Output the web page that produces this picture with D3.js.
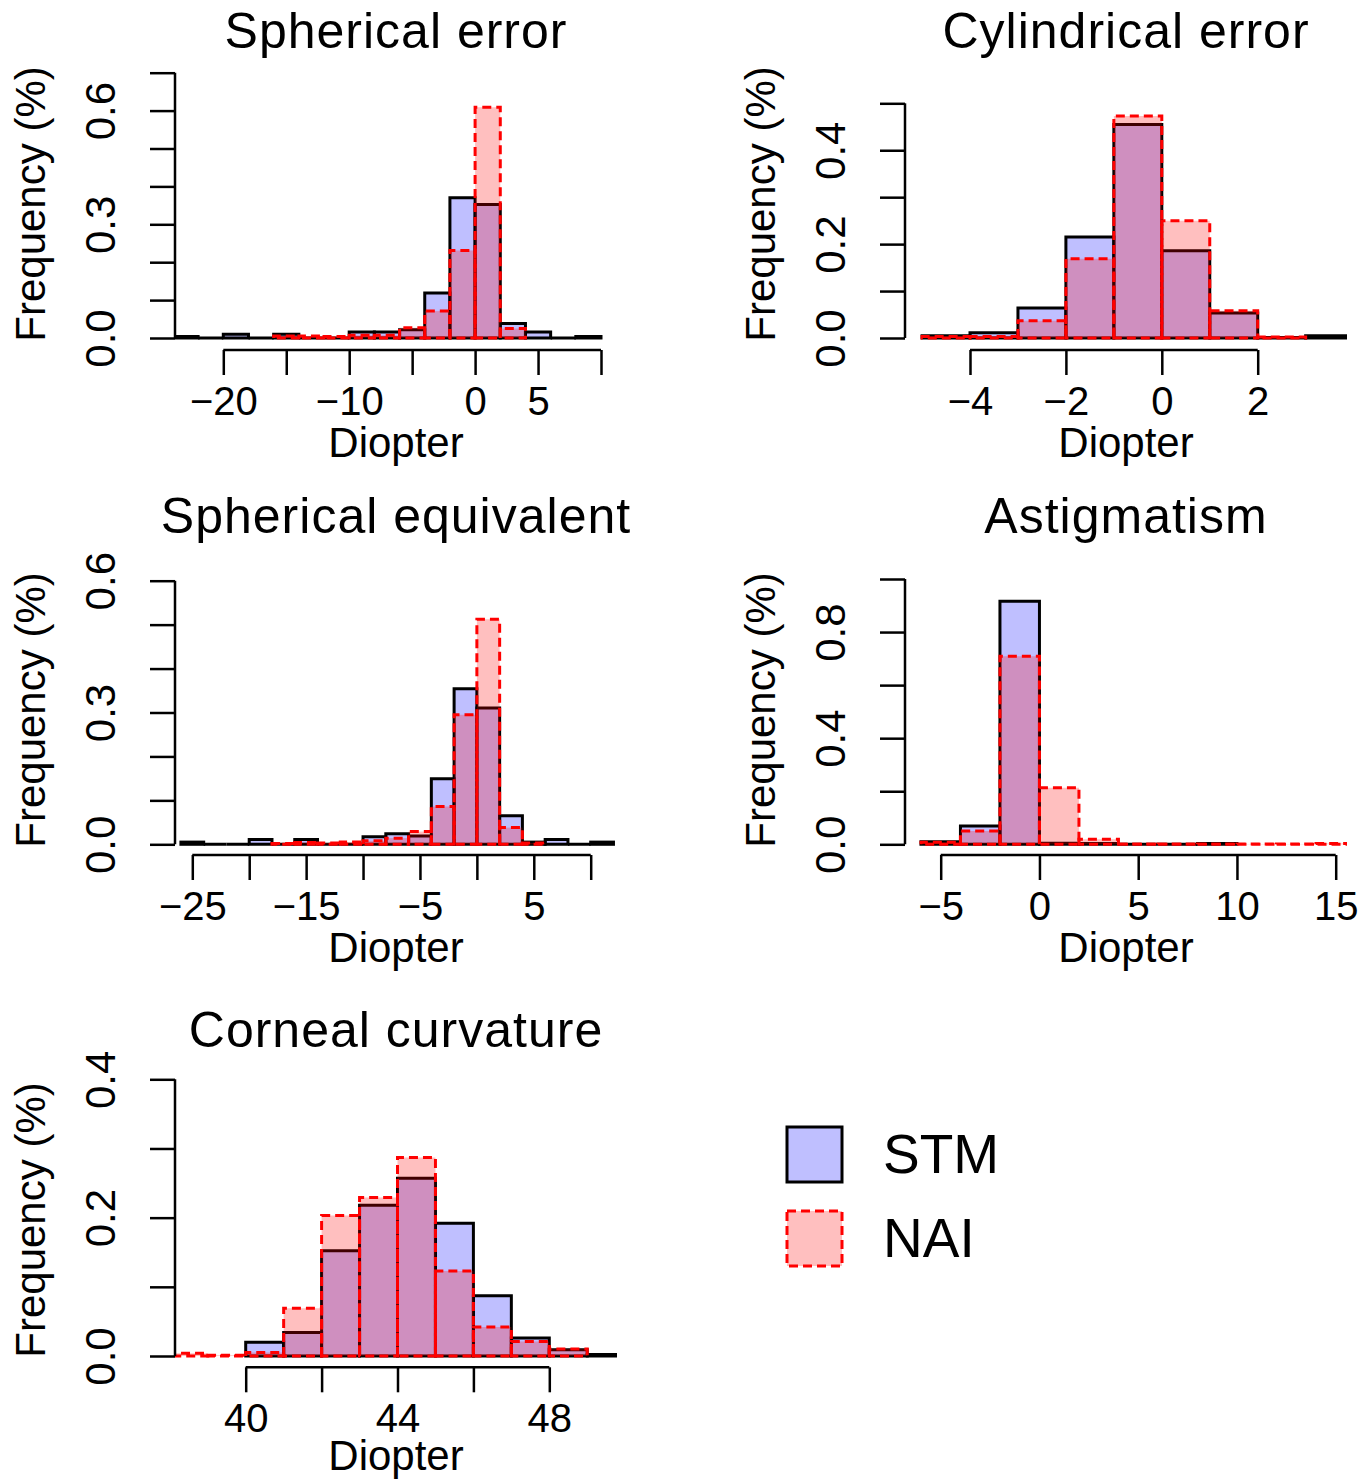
<!DOCTYPE html>
<html>
<head>
<meta charset="utf-8">
<script src="https://cdn.jsdelivr.net/npm/d3@7"></script>
<style>
  body { margin: 0; background: #fff; }
  text { font-family: "Liberation Sans", Arial, Helvetica, sans-serif; fill: #000; }
</style>
</head>
<body>
<script>
// ---- data (histogram densities) ----

// Spherical error
const sphStmBreaks = [-24, -22, -20, -18, -16, -14, -12, -10, -8, -6, -4, -2, 0, 2, 4, 6, 8, 10];
const sphStm = [0.004, 0, 0.01, 0, 0.01, 0, 0, 0.016, 0.016, 0.022, 0.119, 0.37, 0.352, 0.038, 0.016, 0, 0.004];
const sphNaiBreaks = [-16, -14, -12, -10, -8, -6, -4, -2, 0, 2, 4];
const sphNai = [0.005, 0.005, 0.004, 0.007, 0.007, 0.027, 0.071, 0.231, 0.609, 0.025];
const sphXTicks = [-20, -15, -10, -5, 0, 5, 10];
const sphXLabels = [-20, -10, 0, 5];
const sphYTicks = [0, 0.1, 0.2, 0.3, 0.4, 0.5, 0.6, 0.7];
const sphYLabels = [0, 0.3, 0.6];

// Cylindrical error
const cylStmBreaks = [-5, -4, -3, -2, -1, 0, 1, 2, 3, 4];
const cylStm = [0.005, 0.011, 0.064, 0.215, 0.455, 0.186, 0.053, 0.001, 0.005];
const cylNaiBreaks = [-5, -4, -3, -2, -1, 0, 1, 2, 3];
const cylNai = [0.003, 0.003, 0.037, 0.169, 0.473, 0.25, 0.058, 0.002];
const cylXTicks = [-4, -2, 0, 2];
const cylXLabels = [-4, -2, 0, 2];
const cylYTicks = [0, 0.1, 0.2, 0.3, 0.4, 0.5];
const cylYLabels = [0, 0.2, 0.4];

// Spherical equivalent
const seStmBreaks = [-26, -24, -22, -20, -18, -16, -14, -12, -10, -8, -6, -4, -2, 0, 2, 4, 6, 8, 10, 12];
const seStm = [0.005, 0, 0, 0.011, 0, 0.011, 0, 0, 0.017, 0.024, 0.019, 0.149, 0.354, 0.31, 0.065, 0.005, 0.011, 0, 0.005];
const seNaiBreaks = [-18, -16, -14, -12, -10, -8, -6, -4, -2, 0, 2, 4, 6];
const seNai = [0.002, 0.004, 0.003, 0.005, 0.008, 0.014, 0.029, 0.086, 0.295, 0.512, 0.038, 0.003];
const seXTicks = [-25, -20, -15, -10, -5, 0, 5, 10];
const seXLabels = [-25, -15, -5, 5];
const seYTicks = [0, 0.1, 0.2, 0.3, 0.4, 0.5, 0.6];
const seYLabels = [0, 0.3, 0.6];

// Astigmatism
const asStmBreaks = [-6, -4, -2, 0, 2, 4, 6, 8, 10];
const asStm = [0.01, 0.069, 0.916, 0.004, 0.003, 0, 0, 0.003];
const asNaiBreaks = [-6, -4, -2, 0, 2, 4, 6, 8, 10, 12, 14, 16];
const asNai = [0.008, 0.05, 0.709, 0.213, 0.019, 0.001, 0.001, 0.001, 0.001, 0.001, 0.003];
const asXTicks = [-5, 0, 5, 10, 15];
const asXLabels = [-5, 0, 5, 10, 15];
const asYTicks = [0, 0.2, 0.4, 0.6, 0.8, 1.0];
const asYLabels = [0, 0.4, 0.8];

// Corneal curvature
const ccStmBreaks = [40, 41, 42, 43, 44, 45, 46, 47, 48, 49, 50];
const ccStm = [0.02, 0.034, 0.152, 0.218, 0.257, 0.192, 0.087, 0.026, 0.009, 0.002];
const ccNaiBreaks = [38, 39, 40, 41, 42, 43, 44, 45, 46, 47, 48, 49];
const ccNai = [0.004, 0.001, 0.005, 0.069, 0.203, 0.229, 0.287, 0.123, 0.042, 0.021, 0.01];
const ccXTicks = [40, 42, 44, 46, 48];
const ccXLabels = [40, 44, 48];
const ccYTicks = [0, 0.1, 0.2, 0.3, 0.4];
const ccYLabels = [0, 0.2, 0.4];

const groups = ["STM", "NAI"];

// ---- layout ----
const width = 1372, height = 1481;
const cols = [{ left: 175, right: 617 }, { left: 905, right: 1347 }];
const rows = [
  { titleY: 48, zeroY: 338, axisY: 350, labY: 204, xlabY: 457 },
  { titleY: 533, zeroY: 844.3, axisY: 855, labY: 710, xlabY: 962 },
  { titleY: 1047, zeroY: 1356, axisY: 1367.3, labY: 1220, xlabY: 1470 }
];

const panels = [
  { title: "Spherical error", row: 0, col: 0, stmB: sphStmBreaks, stm: sphStm, naiB: sphNaiBreaks, nai: sphNai,
    xTicks: sphXTicks, xLabels: sphXLabels, yTicks: sphYTicks, yLabels: sphYLabels, xPix: [223.3, 601], yTop: 72.7 },
  { title: "Cylindrical error", row: 0, col: 1, stmB: cylStmBreaks, stm: cylStm, naiB: cylNaiBreaks, nai: cylNai,
    xTicks: cylXTicks, xLabels: cylXLabels, yTicks: cylYTicks, yLabels: cylYLabels, xPix: [970, 1257.7], yTop: 103.3 },
  { title: "Spherical equivalent", row: 1, col: 0, stmB: seStmBreaks, stm: seStm, naiB: seNaiBreaks, nai: seNai,
    xTicks: seXTicks, xLabels: seXLabels, yTicks: seYTicks, yLabels: seYLabels, xPix: [192.3, 590.7], yTop: 580.7 },
  { title: "Astigmatism", row: 1, col: 1, stmB: asStmBreaks, stm: asStm, naiB: asNaiBreaks, nai: asNai,
    xTicks: asXTicks, xLabels: asXLabels, yTicks: asYTicks, yLabels: asYLabels, xPix: [940.7, 1335.7], yTop: 579 },
  { title: "Corneal curvature", row: 2, col: 0, stmB: ccStmBreaks, stm: ccStm, naiB: ccNaiBreaks, nai: ccNai,
    xTicks: ccXTicks, xLabels: ccXLabels, yTicks: ccYTicks, yLabels: ccYLabels, xPix: [245.7, 549.3], yTop: 1079.3 }
];

const stmFill = "rgba(0,0,255,0.25)";
const naiFill = "rgba(255,0,0,0.25)";

const svg = d3.select("body").append("svg")
  .attr("width", width)
  .attr("height", height)
  .attr("viewBox", [0, 0, width, height]);

const fmtX = v => (v < 0 ? "\u2212" + Math.abs(v) : String(v));

panels.forEach((p, i) => {
  const c = cols[p.col], r = rows[p.row];
  const x = d3.scaleLinear().domain([p.xTicks[0], p.xTicks[p.xTicks.length - 1]]).range(p.xPix);
  const y = d3.scaleLinear().domain([0, p.yTicks[p.yTicks.length - 1]]).range([r.zeroY, p.yTop]);

  svg.append("clipPath").attr("id", "clip" + i)
    .append("rect")
    .attr("x", c.left).attr("y", r.titleY)
    .attr("width", c.right - c.left).attr("height", r.axisY - r.titleY);

  const plot = svg.append("g").attr("clip-path", `url(#clip${i})`);

  // bars drawn as closed paths so empty bins still show their baseline
  const barPath = (breaks) => (v, j) => {
    const x0 = x(breaks[j]), x1 = x(breaks[j + 1]), y0 = y(0), y1 = y(v);
    return `M${x0},${y0}V${y1}H${x1}V${y0}Z`;
  };

  plot.append("g").selectAll("path")
    .data(p.stm)
    .join("path")
    .attr("d", barPath(p.stmB))
    .attr("fill", stmFill)
    .attr("stroke", "#000")
    .attr("stroke-width", 3);

  plot.append("g").selectAll("path")
    .data(p.nai)
    .join("path")
    .attr("d", barPath(p.naiB))
    .attr("fill", naiFill)
    .attr("stroke", "#ff0000")
    .attr("stroke-width", 3)
    .attr("stroke-dasharray", "9,5");

  // x axis
  svg.append("g")
    .attr("transform", `translate(0,${r.axisY})`)
    .call(d3.axisBottom(x).tickValues(p.xTicks).tickSize(25)
      .tickFormat(v => p.xLabels.includes(v) ? fmtX(v) : ""))
    .call(g => g.select(".domain").remove())
    .call(g => g.selectAll(".tick line").attr("stroke", "#000").attr("stroke-width", 2.5))
    .call(g => g.selectAll(".tick text")
      .attr("y", 65).attr("dy", null)
      .attr("font-size", 40).attr("fill", "#000"))
    .call(g => g.append("line")
      .attr("x1", x(p.xTicks[0])).attr("x2", x(p.xTicks[p.xTicks.length - 1]))
      .attr("stroke", "#000").attr("stroke-width", 2.5));

  // y axis
  svg.append("g")
    .attr("transform", `translate(${c.left},0)`)
    .call(d3.axisLeft(y).tickValues(p.yTicks).tickSize(25)
      .tickFormat(v => p.yLabels.includes(v) ? d3.format(".1f")(v) : ""))
    .call(g => g.select(".domain").remove())
    .call(g => g.selectAll(".tick line").attr("stroke", "#000").attr("stroke-width", 2.5))
    .call(g => g.selectAll(".tick text")
      .attr("x", 0).attr("dy", null)
      .attr("text-anchor", "middle")
      .attr("transform", "translate(-60,0) rotate(-90)")
      .attr("font-size", 42).attr("fill", "#000"))
    .call(g => g.append("line")
      .attr("y1", y(0)).attr("y2", y(p.yTicks[p.yTicks.length - 1]))
      .attr("stroke", "#000").attr("stroke-width", 2.5));

  // titles and axis labels
  const cx = (c.left + c.right) / 2;
  svg.append("text")
    .attr("x", cx).attr("y", r.titleY)
    .attr("text-anchor", "middle")
    .attr("font-size", 50)
    .attr("letter-spacing", 1)
    .text(p.title);

  svg.append("text")
    .attr("x", cx).attr("y", r.xlabY)
    .attr("text-anchor", "middle")
    .attr("font-size", 42)
    .text("Diopter");

  svg.append("text")
    .attr("transform", `translate(${c.left - 130},${r.labY}) rotate(-90)`)
    .attr("text-anchor", "middle")
    .attr("font-size", 42)
    .text("Frequency (%)");
});

// legend
const legend = svg.append("g");
const legendRows = [
  { y: 1127, fill: stmFill, stroke: "#000", dash: null, textY: 1173 },
  { y: 1211, fill: naiFill, stroke: "#ff0000", dash: "9,5", textY: 1257 }
];
legendRows.forEach((l, k) => {
  legend.append("rect")
    .attr("x", 787).attr("y", l.y)
    .attr("width", 55).attr("height", 55)
    .attr("fill", l.fill)
    .attr("stroke", l.stroke)
    .attr("stroke-width", 3)
    .attr("stroke-dasharray", l.dash);
  legend.append("text")
    .attr("x", 883).attr("y", l.textY)
    .attr("font-size", 55)
    .text(groups[k]);
});
</script>
</body>
</html>
